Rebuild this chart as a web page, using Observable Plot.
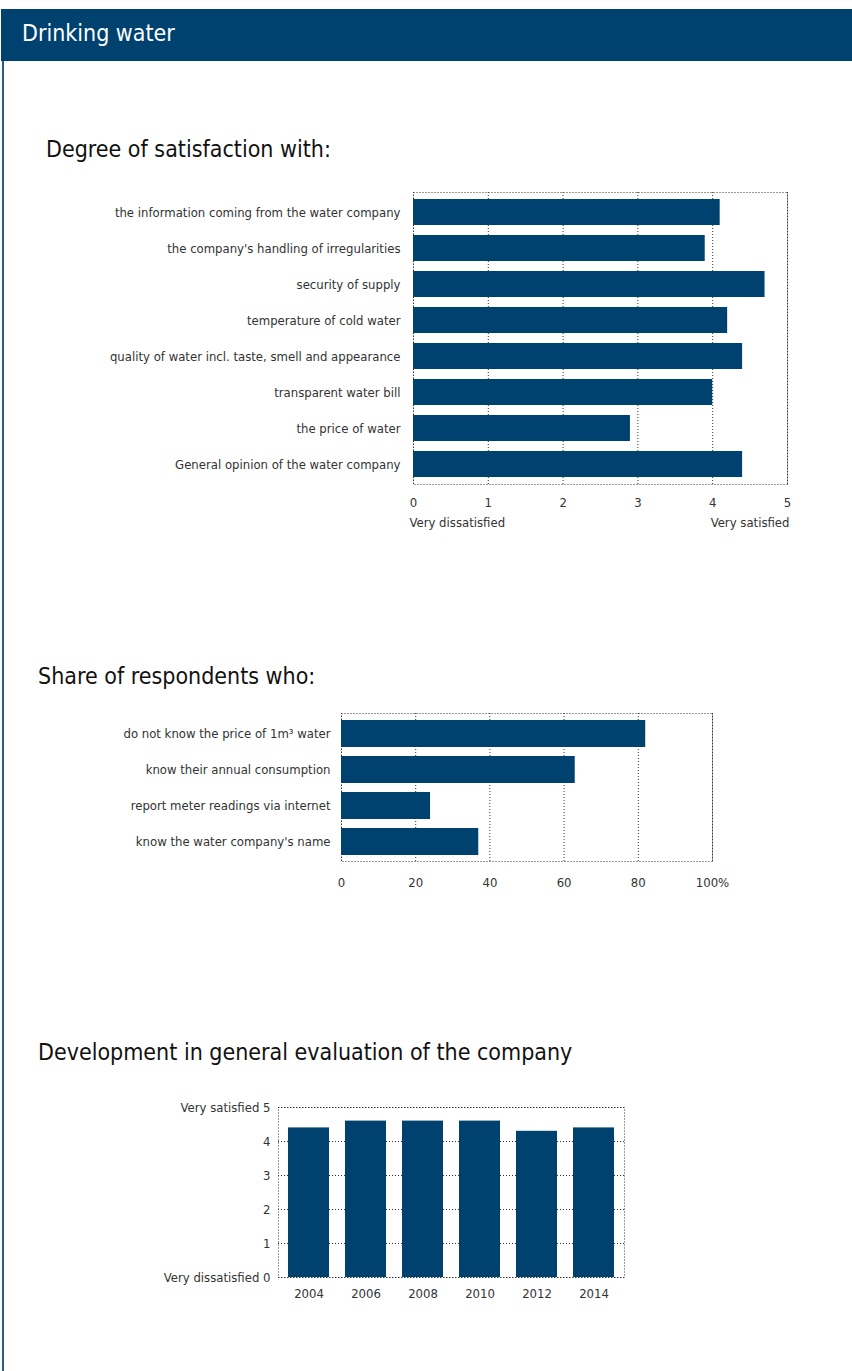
<!DOCTYPE html>
<html>
<head>
<meta charset="utf-8">
<script src="https://cdn.jsdelivr.net/npm/d3@7"></script>
<script src="https://cdn.jsdelivr.net/npm/@observablehq/plot@0.6"></script>
<style>
  html, body { margin: 0; padding: 0; background: #fff; }
  body { width: 852px; height: 1371px; position: relative; overflow: hidden;
         font-family: "DejaVu Sans Condensed", "DejaVu Sans", sans-serif; font-stretch: condensed; }
  #header { position: absolute; left: 1px; top: 9px; width: 851px; height: 52px; background: #00426f; }
  #header span { position: absolute; left: 21px; top: 11px; color: #fff; font-size: 23px; }
  #leftline { position: absolute; left: 2px; top: 61px; width: 2px; height: 1310px; background: #245c92; }
  .title { position: absolute; color: #111; font-size: 23px; white-space: nowrap; }
  .chart { position: absolute; left: 0; }
  .chart svg { overflow: visible; }
</style>
</head>
<body>
<div id="header"><span>Drinking water</span></div>
<div id="leftline"></div>
<div class="title" style="left:46px; top:136px;">Degree of satisfaction with:</div>
<div class="title" style="left:38px; top:663px;">Share of respondents who:</div>
<div class="title" style="left:38px; top:1039px;">Development in general evaluation of the company</div>
<div class="chart" id="c1" style="top:180px;"></div>
<div class="chart" id="c2" style="top:700px;"></div>
<div class="chart" id="c3" style="top:1095px;"></div>
<script>
const satisfactionItems = [
  "the information coming from the water company",
  "the company's handling of irregularities",
  "security of supply",
  "temperature of cold water",
  "quality of water incl. taste, smell and appearance",
  "transparent water bill",
  "the price of water",
  "General opinion of the water company"
];
const satisfactionValues = [4.1, 3.9, 4.7, 4.2, 4.4, 4.0, 2.9, 4.4];
const satisfactionTicks = [0, 1, 2, 3, 4, 5];

const shareItems = [
  "do not know the price of 1m\u00B3 water",
  "know their annual consumption",
  "report meter readings via internet",
  "know the water company's name"
];
const shareValues = [82, 63, 24, 37];
const shareTicks = [0, 20, 40, 60, 80, 100];

const years = ["2004", "2006", "2008", "2010", "2012", "2014"];
const generalValues = [4.4, 4.6, 4.6, 4.6, 4.3, 4.4];
const generalTicks = [0, 1, 2, 3, 4, 5];

const BAR = "#00426f";
const DOT = "1,2";
const INK = "#333";
const FONT = '"DejaVu Sans Condensed", "DejaVu Sans", sans-serif';

// Chart 1
const d1 = satisfactionItems.map((k, i) => ({item: k, value: satisfactionValues[i]}));
const c1 = Plot.plot({
  width: 852, height: 354,
  marginLeft: 413, marginRight: 65, marginTop: 12, marginBottom: 50,
  style: {fontFamily: FONT, fontSize: "13px", color: INK, background: "transparent"},
  x: {domain: [0, 5], ticks: satisfactionTicks},
  y: {domain: satisfactionItems, paddingInner: 0.27, paddingOuter: 0.14},
  marks: [
    Plot.gridX(satisfactionTicks, {stroke: INK, strokeOpacity: 1, strokeDasharray: DOT}),
    Plot.frame({stroke: INK, strokeDasharray: DOT}),
    Plot.barX(d1, {x: "value", y: "item", fill: BAR}),
    Plot.axisX({ticks: satisfactionTicks, tickSize: 0, tickPadding: 13, label: null, fill: INK,
      tickFormat: d => String(d)}),
    Plot.axisY({tickSize: 0, tickPadding: 13, label: null, fill: INK}),
    Plot.text(["Very dissatisfied"], {x: 0, frameAnchor: "bottom", dy: 42, dx: -4, textAnchor: "start", fill: INK}),
    Plot.text(["Very satisfied"], {x: 5, frameAnchor: "bottom", dy: 42, dx: 2, textAnchor: "end", fill: INK})
  ]
});
document.getElementById("c1").appendChild(c1);

// Chart 2
const d2 = shareItems.map((k, i) => ({item: k, value: shareValues[i]}));
const c2 = Plot.plot({
  width: 852, height: 201,
  marginLeft: 341, marginRight: 140, marginTop: 13, marginBottom: 40,
  style: {fontFamily: FONT, fontSize: "13px", color: INK, background: "transparent"},
  x: {domain: [0, 100], ticks: shareTicks},
  y: {domain: shareItems, paddingInner: 0.25, paddingOuter: 0.16},
  marks: [
    Plot.gridX(shareTicks, {stroke: INK, strokeOpacity: 1, strokeDasharray: DOT}),
    Plot.frame({stroke: INK, strokeDasharray: DOT}),
    Plot.barX(d2, {x: "value", y: "item", fill: BAR}),
    Plot.axisX({ticks: shareTicks, tickSize: 0, tickPadding: 16, label: null, fill: INK,
      tickFormat: d => d === 100 ? "100%" : String(d)}),
    Plot.axisY({tickSize: 0, tickPadding: 11, label: null, fill: INK})
  ]
});
document.getElementById("c2").appendChild(c2);

// Chart 3
const d3data = years.map((y, i) => ({year: y, value: generalValues[i]}));
const c3 = Plot.plot({
  width: 852, height: 222,
  marginLeft: 278, marginRight: 228, marginTop: 12, marginBottom: 40,
  style: {fontFamily: FONT, fontSize: "13px", color: INK, background: "transparent"},
  x: {domain: years, paddingInner: 0.28, paddingOuter: 0.14},
  y: {domain: [0, 5], ticks: generalTicks},
  marks: [
    Plot.gridY(generalTicks, {stroke: INK, strokeOpacity: 1, strokeDasharray: DOT}),
    Plot.frame({stroke: INK, strokeDasharray: DOT}),
    Plot.barY(d3data, {x: "year", y: "value", fill: BAR}),
    Plot.axisX({tickSize: 0, tickPadding: 11, label: null, fill: INK}),
    Plot.axisY({ticks: generalTicks, tickSize: 0, tickPadding: 8, label: null, fill: INK,
      tickFormat: d => d === 5 ? "Very satisfied 5" : d === 0 ? "Very dissatisfied 0" : String(d)})
  ]
});
document.getElementById("c3").appendChild(c3);
</script>
</body>
</html>
